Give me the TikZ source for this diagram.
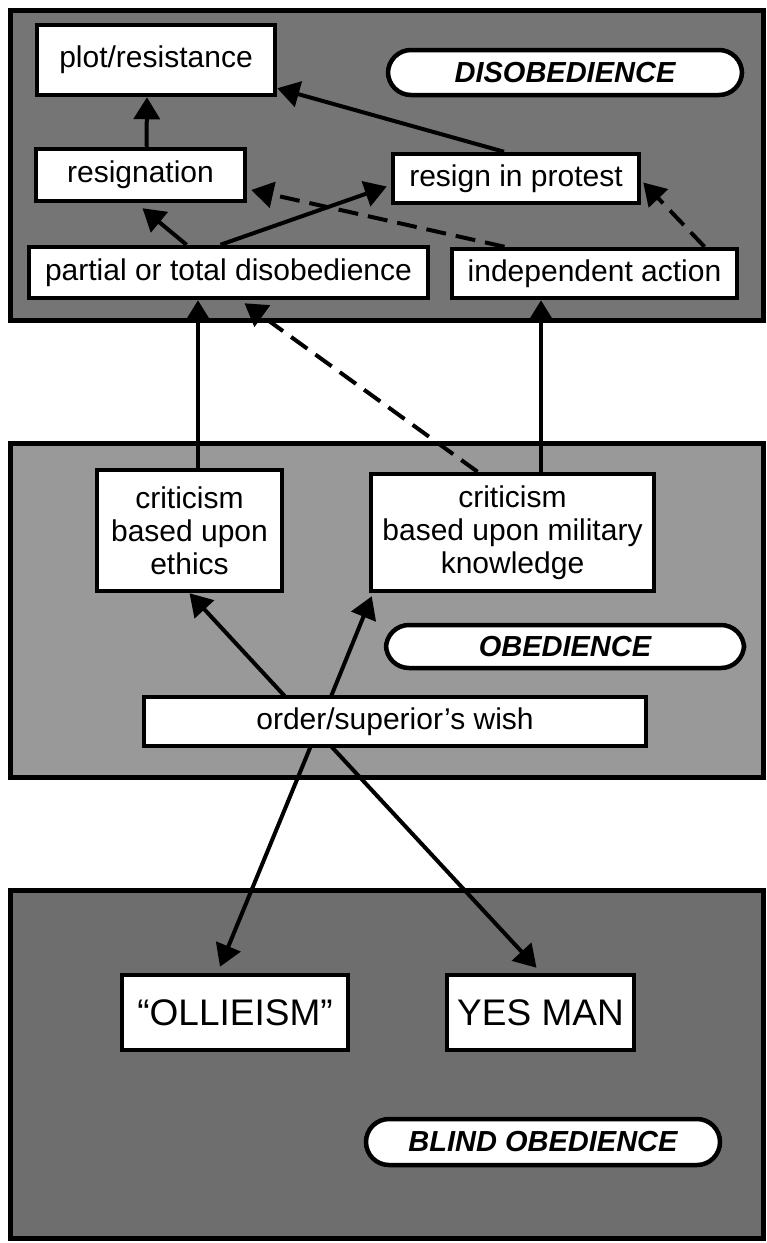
\documentclass[tikz,border=0pt]{standalone}
\usepackage{fontspec}
\setmainfont{Liberation Sans}
\usetikzlibrary{arrows.meta,calc}
\pgfdeclarelayer{bg}
\pgfdeclarelayer{edges}
\pgfsetlayers{bg,edges,main}
\definecolor{topgray}{gray}{0.46}
\definecolor{midgray}{gray}{0.60}
\definecolor{botgray}{gray}{0.43}
\begin{document}
\begin{tikzpicture}[x=1pt,y=-1pt,
  box/.style={draw=black, line width=4.5pt, fill=white, inner sep=0pt, align=center,
    font=\fontsize{30}{33}\selectfont},
  bigbox/.style={box, font=\fontsize{37}{40}\selectfont},
  pill/.style={draw=black, line width=4.5pt, fill=white, rounded corners=23pt, inner sep=0pt,
    font=\fontsize{29}{32}\selectfont\bfseries\itshape},
  arr/.style={line width=4pt, -{Triangle[length=22pt,width=26pt]}},
  darr/.style={arr, dash pattern=on 20pt off 10pt},
  panel/.style={draw=black, line width=5pt}]
\useasboundingbox (0,0) rectangle (767,1243);

% panels
\begin{pgfonlayer}{bg}
  \draw[panel, fill=topgray] (10,10) rectangle (763,320);
  \draw[panel, fill=midgray] (10,443) rectangle (763,777);
  \draw[panel, fill=botgray] (10,890) rectangle (763,1238);
\end{pgfonlayer}

% top panel nodes
\node[box, minimum width=238pt, minimum height=70pt] (plot) at (156,60) {plot/resistance};
\node[pill, minimum width=354pt, minimum height=45pt] (dis) at (565,72.5) {DISOBEDIENCE};
\node[box, minimum width=209pt, minimum height=52pt] (resig) at (140.5,175) {resignation};
\node[box, minimum width=246pt, minimum height=49pt] (protest) at (516,178.5) {resign in protest};
\node[box, minimum width=399pt, minimum height=51pt] (partial) at (228.5,272.5) {partial or total disobedience};
\node[box, minimum width=285pt, minimum height=49pt] (indep) at (594.5,273.5) {independent action};

% middle panel nodes
\node[box, minimum width=185pt, minimum height=121pt] (ethics) at (189.5,530.5) {criticism\\based upon\\ethics};
\node[box, minimum width=283pt, minimum height=117pt] (military) at (512.5,532.5) {criticism\\based upon military\\knowledge};
\node[pill, minimum width=358pt, minimum height=43pt] (obed) at (565,646.5) {OBEDIENCE};
\node[box, minimum width=502pt, minimum height=49pt] (order) at (395,721.5) {order/superior’s wish};

% bottom panel nodes
\node[bigbox, minimum width=226pt, minimum height=75pt] (olli) at (235,1012.5) {“OLLIEISM”};
\node[bigbox, minimum width=187pt, minimum height=75pt] (yes) at (540.5,1012.5) {YES MAN};
\node[pill, minimum width=354pt, minimum height=46pt] (blind) at (543,1142) {BLIND OBEDIENCE};

\coordinate (hub) at (317,731);

\begin{pgfonlayer}{edges}
  % top panel
  \draw[arr] ([xshift=6pt]resig.north) -- ([xshift=-9pt]plot.south);
  \draw[arr] ([xshift=-12pt]protest.north) -- ([yshift=9pt]plot.south east);
  \draw[arr] ([xshift=-42pt]partial.north) -- ([xshift=2pt,yshift=-5pt]resig.south);
  \draw[arr] ([xshift=-8pt]partial.north) -- ([xshift=-4pt,yshift=-8pt]protest.west);
  \draw[darr] ([xshift=-90pt]indep.north) -- ([xshift=4pt,yshift=-15pt]resig.east);
  \draw[darr] ([xshift=110pt]indep.north) -- ([xshift=2pt,yshift=-4pt]protest.east);
  % middle to top
  \draw[arr] ([xshift=8.5pt]ethics.north) -- ([xshift=-30.5pt]partial.south);
  \draw[arr] ([xshift=28.5pt]military.north) -- ([xshift=-53.5pt]indep.south);
  \draw[darr] ([xshift=-35pt]military.north) -- ([xshift=16pt,yshift=-3pt]partial.south);
  % from the order
  \draw[arr] (hub) -- (ethics.south);
  \draw[arr] (hub) -- ([xshift=3pt,yshift=-3pt]military.south west);
  \draw[arr] (hub) -- ([xshift=-15pt,yshift=6pt]olli.north);
  \draw[arr] (hub) -- ([xshift=-4pt,yshift=5pt]yes.north);
\end{pgfonlayer}
\end{tikzpicture}
\end{document}
